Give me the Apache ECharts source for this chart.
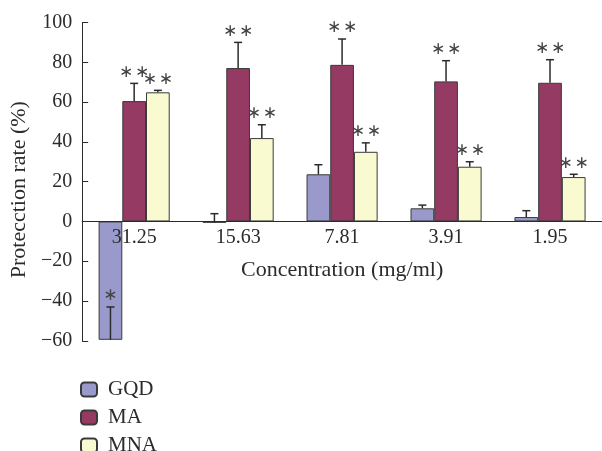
<!DOCTYPE html>
<html>
<head>
<meta charset="utf-8">
<script src="https://cdn.jsdelivr.net/npm/echarts@6/dist/echarts.min.js"></script>
<style>html,body{margin:0;padding:0;background:#fff}#c{width:602px;height:451px}</style>
</head>
<body>
<div id="c"></div>
<script>
const categories = ['31.25', '15.63', '7.81', '3.91', '1.95'];
const gqd = [-59.5, -0.7, 23.7, 6.6, 2.2];
const gqdErr = [16.5, 4.6, 4.8, 1.6, 3.2];
const gqdSig = ['*', '', '', '', ''];
const ma = [60.5, 77.1, 78.7, 70.4, 69.7];
const maErr = [8.9, 12.9, 13.0, 10.4, 11.6];
const maSig = ['**', '**', '**', '**', '**'];
const mna = [64.9, 41.9, 35.0, 27.5, 22.3];
const mnaErr = [1.0, 6.7, 4.5, 2.5, 1.4];
const mnaSig = ['**', '**', '**', '**', '**'];
const yTicks = { min: -60, max: 100, interval: 20 };

const FONT = '"Liberation Serif", "Times New Roman", serif';
const INK = '#2b2b2b';
const BW = 23.7;
const GRID_TOP = 22.5, GRID_BOTTOM = 110.2, CH = 451;
const plotH = CH - GRID_TOP - GRID_BOTTOM;
const zeroOffset = -plotH * (0 - yTicks.min) / (yTicks.max - yTicks.min);

function errData(vals, errs, sigs) {
  return vals.map((v, i) => [i, v, v + errs[i], sigs[i]]);
}
function errSeries(name, vals, errs, sigs, offset) {
  return {
    type: 'custom',
    name: name + ' err',
    z: 5,
    data: errData(vals, errs, sigs),
    renderItem: function (params, api) {
      const i = api.value(0);
      const base = api.coord([i, api.value(1)]);
      const top = api.coord([i, api.value(2)]);
      const x = base[0] + offset;
      const sig = sigs[i];
      const children = [
        { type: 'line', shape: { x1: x, y1: base[1], x2: x, y2: top[1] }, style: { stroke: INK, lineWidth: 1.5 } },
        { type: 'line', shape: { x1: x - 4, y1: top[1], x2: x + 4, y2: top[1] }, style: { stroke: INK, lineWidth: 1.5 } }
      ];
      if (sig) {
        const n = sig.length;
        for (let k = 0; k < n; k++) {
          children.push({
            type: 'text',
            style: {
              text: '\u2217', x: x + (k - (n - 1) / 2) * 16, y: top[1] - 11,
              align: 'center', verticalAlign: 'middle',
              font: '17px "DejaVu Sans", sans-serif', fill: '#444'
            }
          });
        }
      }
      return { type: 'group', children: children };
    },
    encode: { x: 0, y: [1, 2] },
    tooltip: { show: false }
  };
}

const barStyle = (color) => ({ color: color, borderColor: '#3a3a3a', borderWidth: 1 });

const option = {
  animation: false,
  textStyle: { fontFamily: FONT },
  grid: { left: 80, right: -8, top: GRID_TOP, bottom: GRID_BOTTOM, containLabel: false },
  legend: {
    orient: 'vertical', left: 80, top: 379, height: 120, padding: 0,
    itemWidth: 16, itemHeight: 14, itemGap: 7,
    data: ['GQD', 'MA', 'MNA'],
    textStyle: { fontFamily: FONT, fontSize: 21, color: INK, lineHeight: 20, padding: [0, 0, 0, 6] }
  },
  xAxis: {
    type: 'category', data: categories, z: 10,
    position: 'bottom', offset: zeroOffset,
    name: 'Concentration (mg/ml)', nameLocation: 'middle', nameGap: 38,
    nameTextStyle: { fontFamily: FONT, fontSize: 22, color: INK },
    axisLine: { onZero: false, lineStyle: { color: INK, width: 1 } },
    axisTick: { inside: true, length: 6, lineStyle: { color: INK } },
    axisLabel: { fontFamily: FONT, fontSize: 20, color: INK, margin: 6 },
    splitLine: { show: false }
  },
  yAxis: {
    type: 'value', min: yTicks.min, max: yTicks.max, interval: yTicks.interval,
    name: 'Protecction rate (%)', nameLocation: 'middle', nameGap: 50,
    nameTextStyle: { fontFamily: FONT, fontSize: 22, color: INK, padding: [0, 16, 0, 0] },
    axisLine: { show: true, lineStyle: { color: INK, width: 1 } },
    axisTick: { show: true, inside: true, length: 6, lineStyle: { color: INK } },
    axisLabel: { fontFamily: FONT, fontSize: 20, color: INK, margin: 10,
      formatter: (v) => String(v).replace('-', '\u2212') },
    splitLine: { show: false }
  },
  series: [
    { type: 'bar', name: 'GQD', data: gqd, barWidth: BW, barGap: '0%', itemStyle: barStyle('#9999cc') },
    { type: 'bar', name: 'MA', data: ma, barWidth: BW, barGap: '0%', itemStyle: barStyle('#953a63') },
    { type: 'bar', name: 'MNA', data: mna, barWidth: BW, barGap: '0%', itemStyle: barStyle('#fafad0') },
    errSeries('GQD', gqd, gqdErr, gqdSig, -BW),
    errSeries('MA', ma, maErr, maSig, 0),
    errSeries('MNA', mna, mnaErr, mnaSig, BW)
  ]
};
echarts.init(document.getElementById('c'), null, { renderer: 'canvas' }).setOption(option);
</script>
</body>
</html>
